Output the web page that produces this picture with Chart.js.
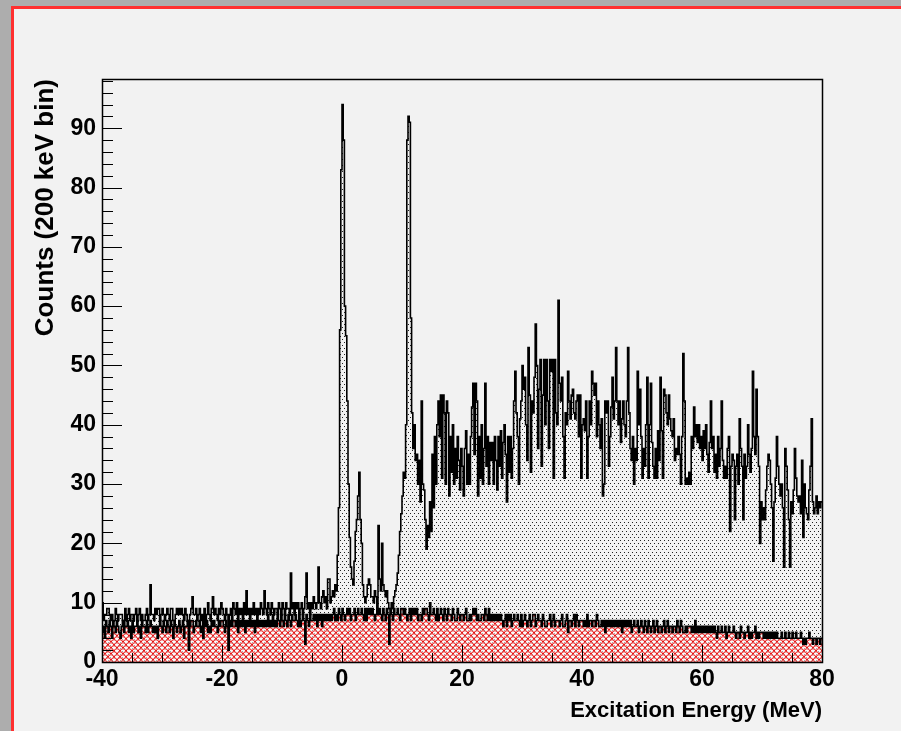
<!DOCTYPE html>
<html>
<head>
<meta charset="utf-8">
<script src="https://cdn.jsdelivr.net/npm/chart.js@4.4.1/dist/chart.umd.min.js"></script>
<style>
  html, body { margin: 0; padding: 0; background: #adadad; width: 901px; height: 731px; overflow: hidden; }
  #pad { position: absolute; left: 11px; top: 6px; right: -10px; bottom: -10px; background: #f2f2f2; border-left: 3px solid #ff3030; border-top: 3px solid #ff3030; }
  #c { position: absolute; left: 0; top: 0; }
</style>
</head>
<body>
<div id="pad"></div>
<canvas id="c" width="901" height="731"></canvas>
<script>
// histogram binning: 200 keV bins from -40 to 80 MeV
const energyMin = -40;
const energyMax = 80;
const binWidth = 0.2;

// total counts per bin (5 bins per MeV, one row per MeV)
const totalCounts = [
  10,7,8,8,9, 9,8,7,8,6, 7,9,8,7,8, 8,8,7,6,9, 7,8,9,7,8,
  8,7,8,9,7, 8,9,7,8,7, 7,8,9,7,8, 13,8,8,7,9, 8,9,9,7,8,
  9,8,7,8,9, 8,7,9,9,7, 7,8,9,8,9, 8,9,8,7,9, 8,7,3,8,9,
  11,8,8,9,7, 8,9,7,8,6, 9,7,8,10,8, 7,9,11,8,9, 8,7,9,8,10,
  9,8,7,9,8, 4,8,9,7,10, 9,8,10,7,9, 8,9,7,10,8, 12,8,9,7,9,
  8,10,8,9,7, 9,8,10,9,8, 12,9,8,10,9, 8,10,9,8,9, 9,8,10,9,8,
  10,9,8,10,9, 9,8,15,9,10, 8,10,9,10,8, 9,10,8,9,11, 15,9,10,8,10,
  9,11,10,9,10, 16,10,9,11,12, 10,11,9,14,14, 10,11,12,11,13, 12,18,26,56,83,
  94,88,60,55,44, 30,21,16,14,13, 17,22,24,28,32, 24,20,13,11,10, 11,13,14,13,11,
  11,10,12,11,9, 23,14,12,20,13, 12,11,12,10,9, 9,10,9,11,12, 13,15,18,22,25,
  28,32,31,40,88, 92,91,58,42,36, 40,34,35,30,34, 27,44,30,29,24, 19,23,21,27,22,
  35,26,38,30,40, 44,38,45,31,45, 42,30,44,42,28, 38,32,40,30,36, 31,38,34,29,36,
  33,28,36,39,30, 35,30,38,43,47, 35,47,44,28,38, 31,40,30,36,47, 33,38,30,37,34,
  37,30,38,34,29, 38,33,39,31,37, 40,35,27,38,32, 38,31,36,44,49, 42,38,30,41,44,
  50,46,48,40,34, 53,45,32,44,42, 48,57,50,36,46, 51,33,45,51,40, 51,44,36,51,49,
  51,31,51,42,40, 61,47,44,48,38, 31,42,40,49,44, 41,45,46,42,41, 44,45,38,45,31,
  40,41,39,44,31, 38,44,40,49,47, 45,47,38,44,40, 36,41,28,30,44, 42,44,33,38,43,
  48,41,44,53,44, 40,44,37,41,44, 40,38,44,53,42, 36,34,38,30,36, 34,49,40,46,38,
  31,36,33,40,48, 31,40,47,37,33, 31,36,31,39,34, 48,39,31,46,45, 42,40,45,41,39,
  38,41,34,36,35, 38,35,30,38,52, 44,30,31,30,32, 30,38,36,43,38, 40,37,40,36,38,
  34,39,36,40,35, 32,37,44,36,38, 32,35,31,38,33, 36,44,34,31,33, 31,36,38,22,33,
  35,34,24,33,35, 30,41,36,33,24, 35,31,33,40,35, 32,36,49,38,35, 46,38,33,20,27,
  24,26,24,29,33, 35,34,30,26,17, 27,31,38,33,30, 28,30,26,16,36, 33,29,24,16,27,
  25,29,36,31,28, 27,28,25,34,21, 30,26,25,24,29, 33,41,27,25,26, 28,25,27,26,27
];

// background counts per bin (red hatched histogram)
const bgCounts = [
  5,6,4,7,6, 5,7,6,4,6, 6,5,7,6,5, 4,6,7,5,6, 6,7,5,6,4,
  7,5,6,6,7, 5,6,4,7,6, 6,5,7,5,6, 7,6,5,6,5, 6,4,6,7,6,
  5,7,6,5,7, 6,5,7,6,4, 7,6,5,6,7, 5,6,7,4,6, 6,7,2,6,7,
  7,5,6,7,6, 6,7,5,6,4, 7,6,7,5,6, 5,7,6,7,6, 6,5,7,6,7,
  7,6,5,7,6, 2,6,7,6,7, 7,6,7,5,7, 6,7,6,7,5, 7,6,7,6,7,
  6,7,5,7,6, 7,6,7,6,7, 6,7,6,8,6, 7,6,8,6,7, 6,8,7,6,8,
  7,6,8,7,6, 8,7,6,8,7, 7,8,7,6,8, 6,7,8,7,3, 8,7,6,8,7,
  7,8,7,8,6, 8,7,8,6,8, 7,8,7,8,7, 8,7,8,9,7, 8,7,9,8,7,
  9,8,7,8,9, 8,9,7,8,8, 9,7,8,9,8, 8,9,8,7,9, 7,9,8,9,8,
  9,8,7,8,9, 8,9,8,7,9, 8,7,9,8,3, 9,8,7,9,8, 8,9,8,7,9,
  9,8,9,8,7, 8,9,7,9,8, 9,8,9,7,8, 8,7,9,8,9, 9,8,7,10,8,
  8,9,8,7,9, 7,8,9,8,7, 9,8,7,9,8, 8,7,9,8,7, 7,9,8,7,8,
  8,7,8,9,7, 7,8,7,8,9, 8,9,7,8,7, 7,8,8,7,9, 8,7,9,7,8,
  7,8,7,8,7, 8,7,8,7,6, 7,8,6,8,7, 8,6,7,8,7, 7,8,7,6,8,
  6,7,8,7,6, 7,8,6,7,8, 8,6,7,8,7, 7,6,8,7,6, 6,7,7,8,6,
  7,8,6,7,7, 7,6,7,8,6, 6,7,8,5,7, 7,6,7,8,6, 8,7,6,7,7,
  7,6,7,6,8, 6,7,7,6,7, 7,6,8,7,6, 6,7,6,7,5, 7,6,7,6,7,
  6,7,6,7,6, 7,6,7,5,7, 6,7,6,7,6, 7,5,6,7,6, 6,7,5,6,7,
  6,5,7,6,5, 7,6,5,6,7, 5,6,7,5,6, 6,5,6,7,5, 6,7,5,6,6,
  5,6,6,5,7, 6,5,7,6,5, 5,6,5,6,6, 6,5,6,5,7, 5,6,5,6,5,
  6,5,6,5,6, 5,6,5,6,5, 6,5,4,6,5, 5,6,5,5,6, 4,5,6,5,5,
  5,6,5,4,5, 5,4,6,5,5, 4,5,5,6,4, 5,4,5,5,6, 4,5,4,5,5,
  5,4,5,4,5, 4,5,4,5,4, 5,4,5,4,4, 4,5,4,4,5, 4,4,5,4,4,
  5,4,4,5,4, 4,4,5,4,3, 4,3,4,4,5, 4,4,3,4,4, 3,4,4,3,4
];

const xTicks = [-40, -20, 0, 20, 40, 60, 80];
const yTicks = [0, 10, 20, 30, 40, 50, 60, 70, 80, 90];
const yMax = 98.3;

// step outline: one point per bin low edge plus the closing edge
function histPoints(counts) {
  const pts = counts.map((v, i) => ({ x: energyMin + i * binWidth, y: v }));
  pts.push({ x: energyMax, y: counts[counts.length - 1] });
  return pts;
}

function dotPattern() {
  const c = document.createElement('canvas');
  c.width = 4; c.height = 6;
  const g = c.getContext('2d');
  g.fillStyle = '#222';
  g.fillRect(0, 0, 1, 1);
  g.fillRect(2, 3, 1, 1);
  return g.createPattern(c, 'repeat');
}

function scalePattern() {
  const c = document.createElement('canvas');
  c.width = 6; c.height = 6;
  const g = c.getContext('2d');
  g.fillStyle = 'rgba(255,255,255,0.6)';
  g.fillRect(0, 0, 6, 6);
  g.strokeStyle = '#e81010';
  g.lineWidth = 1;
  g.beginPath();
  g.arc(3, 3.5, 2.8, Math.PI, 2 * Math.PI);
  g.moveTo(-3, 6.5);
  g.arc(0, 6.5, 2.8, Math.PI, 2 * Math.PI);
  g.moveTo(3.2, 6.5);
  g.arc(6, 6.5, 2.8, Math.PI, 2 * Math.PI);
  g.stroke();
  return g.createPattern(c, 'repeat');
}

// frame and inward ROOT-style tick marks
const frame = {
  id: 'frame',
  afterDraw(chart) {
    const { ctx, chartArea: a, scales: { x, y } } = chart;
    ctx.save();
    ctx.strokeStyle = '#000';
    ctx.lineWidth = 1;
    ctx.beginPath();
    for (let v = 0; v <= yMax; v += 2) {
      const py = Math.round(y.getPixelForValue(v)) + 0.5;
      const len = v % 10 === 0 ? 20 : 11;
      ctx.moveTo(a.left, py);
      ctx.lineTo(a.left + len, py);
    }
    for (let v = energyMin; v <= energyMax; v += 5) {
      const px = Math.round(x.getPixelForValue(v)) + 0.5;
      const len = v % 20 === 0 ? 17 : 9;
      ctx.moveTo(px, a.bottom);
      ctx.lineTo(px, a.bottom - len);
    }
    ctx.stroke();
    ctx.lineWidth = 1.5;
    ctx.strokeRect(Math.round(a.left) + 0.5, Math.round(a.top) + 0.5,
      Math.round(a.right - a.left), Math.round(a.bottom - a.top));
    ctx.restore();
  }
};

Chart.defaults.font.family = "'Liberation Sans', Arial, sans-serif";
Chart.defaults.color = '#000';

const tickFont = { size: 23, weight: 'bold' };

new Chart(document.getElementById('c').getContext('2d'), {
  type: 'line',
  data: {
    datasets: [
      { label: 'background', data: histPoints(bgCounts), stepped: true, fill: 'origin',
        backgroundColor: scalePattern(), borderColor: '#000', borderWidth: 1.6, pointRadius: 0, order: 0 },
      { label: 'total', data: histPoints(totalCounts), stepped: true, fill: 'origin',
        backgroundColor: dotPattern(), borderColor: '#000', borderWidth: 1.6, pointRadius: 0, order: 1 }
    ]
  },
  options: {
    responsive: false,
    animation: false,
    devicePixelRatio: 1,
    layout: { padding: { left: 0, top: 79, right: 79, bottom: 0 } },
    plugins: { legend: { display: false }, tooltip: { enabled: false } },
    scales: {
      x: {
        type: 'linear', min: energyMin, max: energyMax,
        afterBuildTicks: s => { s.ticks = xTicks.map(v => ({ value: v })); },
        afterFit: s => { s.height = 69; },
        grid: { display: false, drawTicks: false }, border: { display: false },
        ticks: { font: tickFont, padding: 4, maxRotation: 0, autoSkip: false },
        title: { display: true, text: 'Excitation Energy (MeV)', align: 'end',
          font: { size: 22, weight: 'bold' }, padding: { top: 0, bottom: 7 } }
      },
      y: {
        type: 'linear', min: 0, max: yMax,
        afterBuildTicks: s => { s.ticks = yTicks.map(v => ({ value: v })); },
        afterFit: s => { s.width = 102; },
        grid: { display: false, drawTicks: false }, border: { display: false },
        ticks: { font: tickFont, padding: 6, autoSkip: false },
        title: { display: true, text: 'Counts (200 keV bin)', align: 'end',
          font: { size: 26, weight: 'bold' }, padding: { top: 30, bottom: 0 } }
      }
    }
  },
  plugins: [frame]
});
</script>
</body>
</html>
